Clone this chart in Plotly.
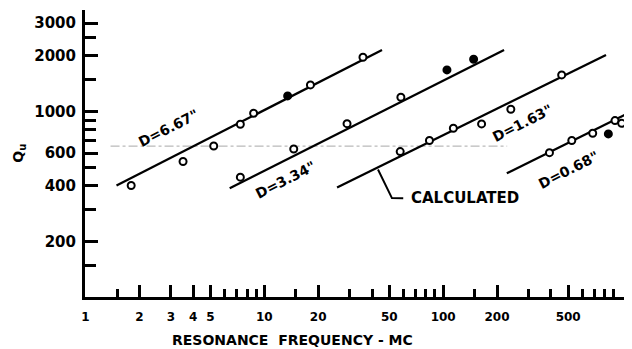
import numpy as np
import plotly.graph_objects as go

# ---- data ----
# D = 6.67"
d667_x = [1.80, 3.51, 5.21, 7.34, 8.71, 13.5, 18.1, 35.6]
d667_y = [402, 541, 656, 859, 984, 1219, 1397, 1967]
d667_filled = [0, 0, 0, 0, 0, 1, 0, 0]
d667_fit_x = [1.49, 45.5]
d667_fit_y = [402, 2153]

# D = 3.34"
d334_x = [7.34, 14.6, 29.0, 58.0, 105, 148]
d334_y = [446, 632, 865, 1200, 1683, 1919]
d334_filled = [0, 0, 0, 0, 1, 1]
d334_fit_x = [6.40, 219]
d334_fit_y = [389, 2153]

# D = 1.63"
d163_x = [57.5, 83.8, 114, 164, 239, 460]
d163_y = [612, 702, 817, 862, 1034, 1582]
d163_filled = [0, 0, 0, 0, 0, 0]
d163_fit_x = [25.5, 814]
d163_fit_y = [392, 2024]

# D = 0.68"
d068_x = [393, 524, 686, 839, 914, 996]
d068_y = [604, 702, 768, 762, 898, 869]
d068_filled = [0, 0, 0, 1, 0, 0]
d068_fit_x = [227, 1062]
d068_fit_y = [468, 975]

# faint dash-dot reference line
ref_x = [1.38, 228]
ref_y = [655, 655]

# calculated-curve pointer (head on the 1.63" line, bend point, end)
calc_x = [43.2, 51.7, 59.8]
calc_y = [490, 344, 343]

# ticks
x_major = [1, 2, 3, 4, 5, 10, 20, 50, 100, 200, 500]
x_minor = [1.5, 6, 7, 8, 9, 15, 30, 40, 60, 70, 80, 90, 150, 300, 400, 600, 700, 800, 900]
y_major = [200, 400, 600, 1000, 2000, 3000]
y_minor = [150, 300, 500, 700, 800, 900, 1500, 2500]

labels = ['D=6.67"', 'D=3.34"', 'D=1.63"', 'D=0.68"']
x_title = "RESONANCE  FREQUENCY - MC"

FONT = "DejaVu Sans"

fig = go.Figure()

fig.add_trace(go.Scatter(x=ref_x, y=ref_y, mode="lines",
                         line=dict(color="#a8a8a8", width=1, dash="dashdot"),
                         hoverinfo="skip", showlegend=False))

series = [
    (d667_fit_x, d667_fit_y, d667_x, d667_y, d667_filled),
    (d334_fit_x, d334_fit_y, d334_x, d334_y, d334_filled),
    (d163_fit_x, d163_fit_y, d163_x, d163_y, d163_filled),
    (d068_fit_x, d068_fit_y, d068_x, d068_y, d068_filled),
]
for (fx, fy, px, py, filled), name in zip(series, labels):
    fig.add_trace(go.Scatter(x=fx, y=fy, mode="lines",
                             line=dict(color="black", width=2.3),
                             name=name, showlegend=False, hoverinfo="skip"))
    fig.add_trace(go.Scatter(x=px, y=py, mode="markers", name=name, showlegend=False,
                             marker=dict(symbol="circle", size=7,
                                         color=["black" if f else "white" for f in filled],
                                         line=dict(color="black", width=2))))

# pointer to the calculated line
fig.add_trace(go.Scatter(x=calc_x, y=calc_y, mode="lines",
                         line=dict(color="black", width=2),
                         hoverinfo="skip", showlegend=False))

# series labels (rotated along the lines)
label_pos = [(0.465, 2.912), (1.117, 2.634), (2.445, 2.939), (2.700, 2.688)]
for txt, (lx, ly) in zip(labels, label_pos):
    fig.add_annotation(x=lx, y=ly, xref="x", yref="y", text=txt, showarrow=False,
                       textangle=-27, font=dict(family=FONT, size=14, color="black", weight="bold"))

fig.add_annotation(x=np.log10(calc_x[2]) + 0.03, y=np.log10(calc_y[2]), xref="x", yref="y",
                   text="CALCULATED", showarrow=False, xanchor="left",
                   font=dict(family=FONT, size=15, color="black", weight="bold"))

# y-axis title Qu
fig.add_annotation(x=-0.121, y=0.502, xref="paper", yref="paper", text="Q<sub>u</sub>",
                   showarrow=False, textangle=-90, xanchor="center", yanchor="middle",
                   font=dict(family=FONT, size=14, color="black", weight="bold"))

# x-axis title (placed left of centre as in the original)
fig.add_annotation(x=0.38, y=-0.15, xref="paper", yref="paper", text=x_title,
                   showarrow=False, xanchor="center", yanchor="middle",
                   font=dict(family=FONT, size=14, color="black", weight="bold"))

fig.update_xaxes(type="log", range=[-0.003, 3.056], automargin=False,
                 tickvals=x_major, ticktext=[str(v) for v in x_major],
                 ticks="inside", ticklen=12, tickwidth=2.5, tickcolor="black",
                 minor=dict(tickvals=x_minor, ticks="inside", ticklen=8, tickwidth=2.5, tickcolor="black"),
                 showline=True, linewidth=3, linecolor="black", showgrid=False, zeroline=False,
                 tickfont=dict(family=FONT, size=12, color="black", weight="bold"),
                 ticklabelstandoff=7)
fig.update_yaxes(type="log", range=[2.005, 3.548], automargin=False,
                 tickvals=y_major, ticktext=[str(v) for v in y_major],
                 ticks="inside", ticklen=13, tickwidth=2.5, tickcolor="black",
                 minor=dict(tickvals=y_minor, ticks="inside", ticklen=11, tickwidth=2.5, tickcolor="black"),
                 showline=True, linewidth=3, linecolor="black", showgrid=False, zeroline=False,
                 tickfont=dict(family=FONT, size=15, color="black", weight="bold"),
                 ticklabelstandoff=3)

# the page body adds an 8 px offset, so the figure is 8 px smaller each way
fig.update_layout(width=624, height=341, margin=dict(l=77, r=0, t=2, b=52),
                  paper_bgcolor="white", plot_bgcolor="white", showlegend=False)

fig.write_html("out.html")
